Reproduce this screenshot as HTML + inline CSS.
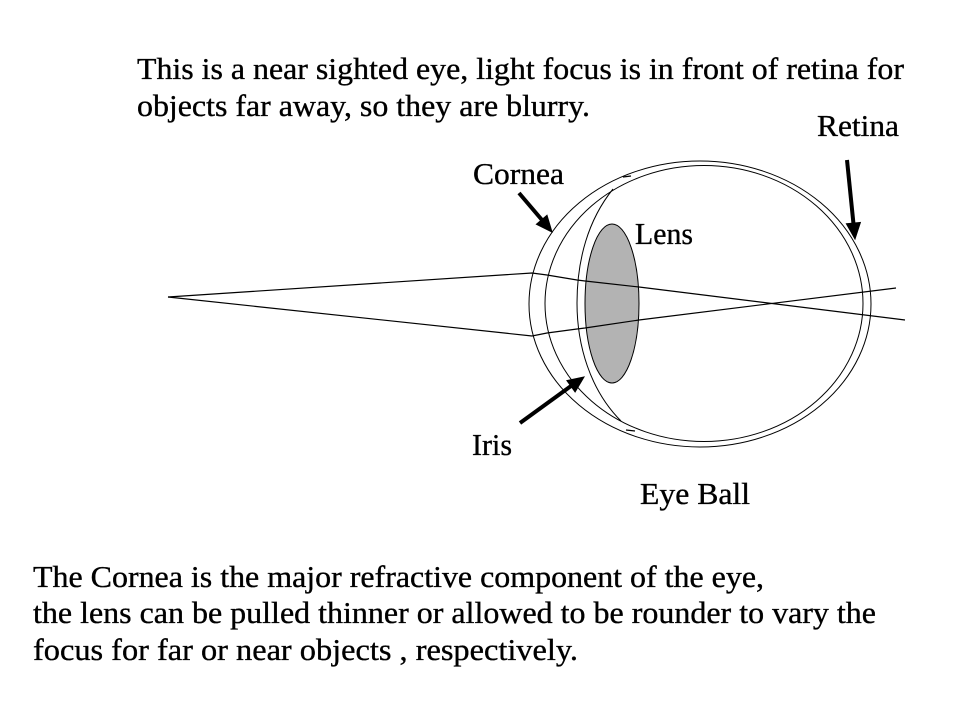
<!DOCTYPE html>
<html>
<head>
<meta charset="utf-8">
<style>
  html, body { margin: 0; padding: 0; background: #ffffff; }
  svg { display: block; }
  text { font-family: "Liberation Serif", "Times New Roman", serif; font-size: 31px; fill: #000; stroke: #000; stroke-width: 0.35px; }
</style>
</head>
<body>
<svg width="959" height="719" viewBox="0 0 959 719" xmlns="http://www.w3.org/2000/svg">
  <rect x="0" y="0" width="959" height="719" fill="#ffffff"/>

  <!-- Title text -->
  <text x="137" y="79" textLength="767" lengthAdjust="spacingAndGlyphs">This is a near sighted eye, light focus is in front of retina for</text>
  <text x="137" y="116" textLength="453" lengthAdjust="spacingAndGlyphs">objects far away, so they are blurry.</text>

  <!-- Labels -->
  <text x="817" y="136" textLength="82" lengthAdjust="spacingAndGlyphs">Retina</text>
  <text x="473" y="184" textLength="91" lengthAdjust="spacingAndGlyphs">Cornea</text>
  <text x="635" y="244" textLength="58" lengthAdjust="spacingAndGlyphs">Lens</text>
  <text x="472" y="455" textLength="40" lengthAdjust="spacingAndGlyphs">Iris</text>
  <text x="640" y="504" textLength="110" lengthAdjust="spacingAndGlyphs">Eye Ball</text>

  <!-- Eye -->
  <g fill="none" stroke="#000" stroke-width="1">
    <ellipse cx="700" cy="304" rx="171" ry="143"/>
    <ellipse cx="704" cy="303.5" rx="159" ry="138"/>
    <path d="M 613 189 C 588 220, 577 260, 577 303 C 577 345, 590 390, 621 421"/>
  </g>
  <!-- small ticks -->
  <line x1="623" y1="177" x2="631" y2="176" stroke="#000" stroke-width="1.3"/>
  <line x1="626" y1="430" x2="635" y2="431" stroke="#000" stroke-width="1.3"/>

  <!-- Lens -->
  <ellipse cx="612" cy="303.5" rx="27" ry="79.5" fill="#b3b3b3" stroke="#000" stroke-width="1"/>

  <!-- Light rays -->
  <g fill="none" stroke="#000" stroke-width="1.2">
    <polyline points="168,297 532,273 547,275 577,280 585,281 639,287 905,320"/>
    <polyline points="168,297 532,336 547,333 577,329 585,328 639,320 896,288"/>
  </g>

  <!-- Arrows -->
  <g stroke="#000" stroke-width="4" fill="none">
    <line x1="519" y1="193" x2="542" y2="220"/>
    <line x1="520" y1="423" x2="571" y2="386"/>
    <line x1="847" y1="160" x2="853.4" y2="223"/>
  </g>
  <g fill="#000" stroke="#000" stroke-width="1">
    <polygon points="547,215.3 536.4,224.3 552,232"/>
    <polygon points="575.1,392 566.9,380.6 584,377"/>
    <polygon points="846.4,223.8 860.4,222.4 855,239"/>
  </g>

  <!-- Bottom text -->
  <text x="33" y="587" textLength="731" lengthAdjust="spacingAndGlyphs">The Cornea is the major refractive component of the eye,</text>
  <text x="33" y="623" textLength="843" lengthAdjust="spacingAndGlyphs">the lens can be pulled thinner or allowed to be rounder to vary the</text>
  <text x="33" y="660" textLength="545" lengthAdjust="spacingAndGlyphs">focus for far or near objects , respectively.</text>
</svg>
</body>
</html>
